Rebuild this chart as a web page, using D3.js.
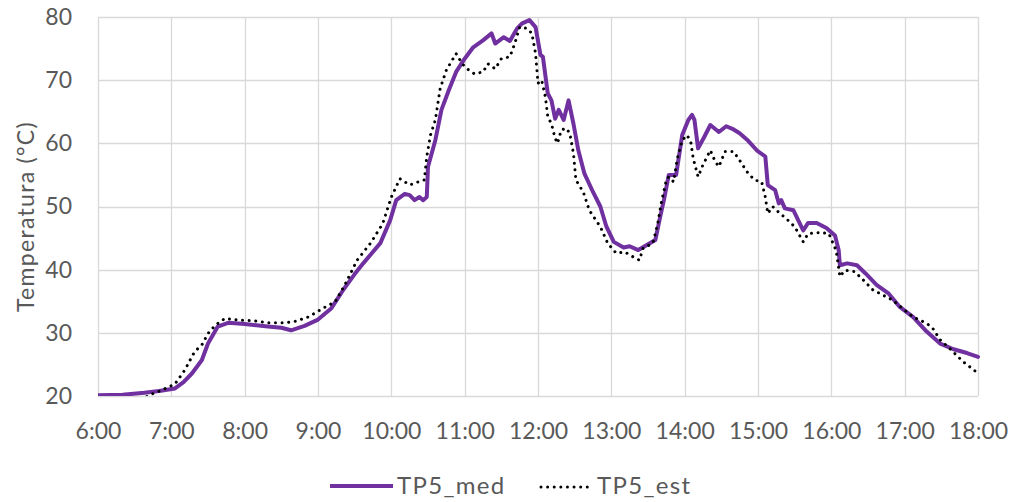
<!DOCTYPE html>
<html>
<head>
<meta charset="utf-8">
<script src="https://cdn.jsdelivr.net/npm/d3@7"></script>
<style>
  body { margin: 0; background: #fff; }
  svg { display: block; }
  text { font-family: "Lato", "Open Sans", sans-serif; fill: #595959; }
</style>
</head>
<body>
<svg id="chart" width="1016" height="502"></svg>
<script>
const xTickLabels = ["6:00","7:00","8:00","9:00","10:00","11:00","12:00","13:00","14:00","15:00","16:00","17:00","18:00"];
const yTicks = [20,30,40,50,60,70,80];
const seriesNames = ["TP5_med", "TP5_est"];

const medTimes = ["6:00","6:20","6:38","6:50","7:03","7:10","7:17","7:25","7:30","7:38","7:47","8:00","8:19","8:30","8:38","8:49","9:00","9:11","9:21","9:30","9:37","9:44","9:51","9:59","10:04","10:11","10:15","10:19","10:23","10:26","10:29","10:30","10:36","10:41","10:47","10:53","11:00","11:07","11:15","11:22","11:25","11:32","11:37","11:43","11:47","11:53","11:58","12:02","12:04","12:08","12:11","12:14","12:17","12:21","12:25","12:29","12:33","12:38","12:45","12:51","12:56","13:02","13:10","13:15","13:22","13:29","13:36","13:40","13:43","13:47","13:53","13:58","14:03","14:06","14:08","14:11","14:16","14:21","14:28","14:34","14:40","14:45","14:52","14:59","15:06","15:08","15:14","15:17","15:19","15:22","15:29","15:37","15:41","15:48","15:56","16:03","16:06","16:07","16:13","16:21","16:28","16:37","16:47","16:56","17:07","17:18","17:29","17:40","17:51","18:00"];
const medVals = [20.1,20.2,20.5,20.8,21.2,22.2,23.6,25.7,28.3,31.0,31.6,31.4,31.0,30.8,30.4,31.1,32.1,33.9,36.9,39.3,41.0,42.6,44.2,47.8,51.0,52.0,51.8,51.0,51.5,51.0,51.5,56.3,60.5,65.3,68.4,71.3,73.4,75.2,76.3,77.4,75.8,76.8,76.2,78.2,79.0,79.5,78.4,74.0,73.7,67.9,66.8,63.9,65.3,63.7,66.8,63.1,58.9,55.2,52.3,50.0,46.8,44.4,43.5,43.7,43.1,43.9,44.7,48.4,51.0,55.0,55.0,61.3,63.7,64.5,63.7,59.2,61.0,62.9,61.8,62.7,62.2,61.6,60.4,58.9,57.9,53.4,52.6,50.5,51.0,49.7,49.4,46.2,47.4,47.4,46.6,45.4,43.1,40.7,41.0,40.7,39.4,37.6,36.2,34.1,32.5,30.2,28.3,27.4,26.8,26.2];

const estTimes = ["6:40","6:44","6:52","7:03","7:11","7:19","7:25","7:30","7:36","7:44","7:55","8:08","8:19","8:33","8:41","8:52","9:06","9:14","9:22","9:32","9:43","9:53","10:00","10:07","10:15","10:22","10:27","10:29","10:32","10:36","10:40","10:45","10:53","10:58","11:02","11:08","11:15","11:19","11:25","11:30","11:37","11:41","11:45","11:51","11:55","11:58","12:00","12:03","12:06","12:08","12:11","12:14","12:16","12:19","12:23","12:26","12:29","12:31","12:37","12:42","12:51","12:57","13:04","13:11","13:18","13:23","13:26","13:34","13:38","13:41","13:45","13:47","13:51","13:54","13:58","14:02","14:05","14:07","14:11","14:15","14:21","14:25","14:28","14:33","14:40","14:45","14:51","14:57","15:03","15:06","15:08","15:12","15:18","15:23","15:30","15:37","15:41","15:51","15:58","16:04","16:07","16:11","16:19","16:26","16:34","16:42","16:50","16:58","17:07","17:18","17:23","17:29","17:37","17:48","18:00"];
const estVals = [19.9,20.3,20.9,21.9,24.1,27.0,28.1,29.9,31.2,32.3,32.0,31.9,31.6,31.6,31.8,32.5,34.1,34.9,37.6,41.5,44.2,47.3,51.5,54.4,53.4,53.9,54.2,57.9,61.3,63.7,68.7,71.6,74.2,72.6,71.8,71.0,71.3,72.6,71.8,73.4,73.7,75.8,78.4,78.2,77.4,74.2,69.5,70.0,67.4,64.2,63.1,60.8,60.0,62.1,62.4,61.6,58.4,54.2,52.3,49.4,46.8,44.2,42.6,42.8,42.0,41.5,43.4,44.2,47.3,50.7,54.2,54.7,53.9,57.6,60.5,61.3,60.2,57.6,54.7,56.6,58.9,57.1,56.3,58.7,58.7,57.3,55.5,54.2,53.9,51.5,48.9,50.0,48.9,48.1,46.8,44.4,45.7,45.9,45.7,43.0,38.9,39.9,39.7,38.4,36.8,36.0,35.2,33.9,32.5,31.5,30.7,28.9,27.5,25.4,23.6];

const toMin = s => { const [h, m] = s.split(":").map(Number); return h * 60 + m; };

const svg = d3.select("#chart");
const pL = 98, pT = 17, pR = 978, pB = 396;

const x = d3.scaleLinear().domain([toMin("6:00"), toMin("18:00")]).range([pL, pR]);
const y = d3.scaleLinear().domain([20, 80]).range([pB, pT]);

svg.append("defs").append("clipPath").attr("id", "clip")
  .append("rect").attr("x", pL).attr("y", pT - 5).attr("width", pR - pL + 3).attr("height", pB - pT + 5);

// grid
const grid = svg.append("g");
grid.selectAll("line.h").data(yTicks).join("line")
  .attr("x1", pL).attr("x2", pR)
  .attr("y1", d => Math.round(y(d)) + 0.5).attr("y2", d => Math.round(y(d)) + 0.5)
  .attr("stroke", "#d9d9d9").attr("stroke-width", 1.3);
grid.selectAll("line.v").data(xTickLabels).join("line")
  .attr("x1", d => Math.round(x(toMin(d))) + 0.5).attr("x2", d => Math.round(x(toMin(d))) + 0.5)
  .attr("y1", pT).attr("y2", pB)
  .attr("stroke", "#d9d9d9").attr("stroke-width", 1.3);

// axes
const xAxis = d3.axisBottom(x).tickValues(xTickLabels.map(toMin))
  .tickFormat((d, i) => xTickLabels[i]).tickSize(0).tickPadding(27);
const gx = svg.append("g").attr("transform", `translate(0,${pB})`).call(xAxis);
gx.select(".domain").remove();
gx.selectAll("text").style("font-size", "23px").style("fill", "#595959").style("font-family", "Lato, 'Open Sans', sans-serif");

const yAxis = d3.axisLeft(y).tickValues(yTicks).tickSize(0).tickPadding(26);
const gy = svg.append("g").attr("transform", `translate(${pL},0)`).call(yAxis);
gy.select(".domain").remove();
gy.selectAll("text").style("font-size", "23px").style("fill", "#595959").style("font-family", "Lato, 'Open Sans', sans-serif");

svg.append("text")
  .attr("transform", `translate(25,${(pT + pB) / 2 + 10}) rotate(-90)`)
  .attr("text-anchor", "middle").attr("dominant-baseline", "central")
  .style("font-size", "23px").style("letter-spacing", "1.3px").text("Temperatura (°C)");

const line = d3.line().x(d => x(d[0])).y(d => y(d[1]));
const med = medTimes.map((t, i) => [toMin(t), medVals[i]]);
const est = estTimes.map((t, i) => [toMin(t), estVals[i]]);

const plot = svg.append("g").attr("clip-path", "url(#clip)");
plot.append("path").datum(med).attr("d", line)
  .attr("fill", "none").attr("stroke", "#7030A0").attr("stroke-width", 4)
  .attr("stroke-linejoin", "round").attr("stroke-linecap", "round");
plot.append("path").datum(est).attr("d", line)
  .attr("fill", "none").attr("stroke", "#000").attr("stroke-width", 3)
  .attr("stroke-dasharray", "0.01 6.6").attr("stroke-linecap", "round");

// legend
const lg = svg.append("g");
lg.append("line").attr("x1", 330).attr("x2", 393).attr("y1", 486).attr("y2", 486)
  .attr("stroke", "#7030A0").attr("stroke-width", 4);
lg.append("text").attr("x", 397).attr("y", 494).style("font-size", "24px").style("letter-spacing", "1.3px").text(seriesNames[0]);
lg.append("line").attr("x1", 541).attr("x2", 593).attr("y1", 487).attr("y2", 487)
  .attr("stroke", "#000").attr("stroke-width", 3)
  .attr("stroke-dasharray", "0.01 6.6").attr("stroke-linecap", "round");
lg.append("text").attr("x", 597).attr("y", 494).style("font-size", "24px").style("letter-spacing", "1.3px").text(seriesNames[1]);
</script>
</body>
</html>
